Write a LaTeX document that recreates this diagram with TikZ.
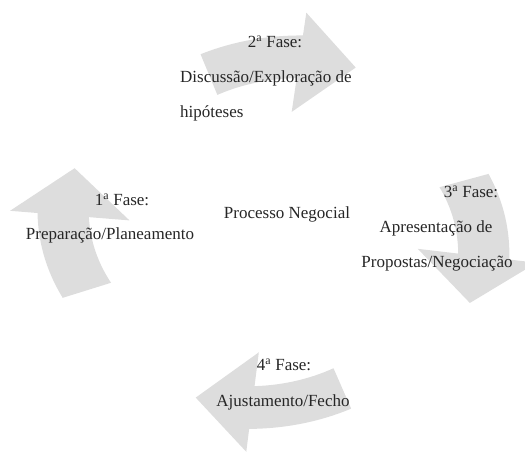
\documentclass[tikz,border=0pt]{standalone}
\usepackage{fontspec}
\setmainfont{Liberation Serif}
\definecolor{arrowgray}{RGB}{221,221,221}
% #1 rotation
\newcommand\cyclearrow[1]{%
  \begin{scope}[rotate=#1]
    \fill[arrowgray]
      plot[domain=109:83, samples=16] (\x:{188+(109-\x)*10/26})
      -- (83:221) -- (67.5:178) -- (83:121)
      -- plot[domain=83:109, samples=16] (\x:{155-(\x-83)*10/26})
      -- cycle;
  \end{scope}}
\tikzset{
  lbl/.style={font=\fontsize{17}{20}\selectfont, inner sep=0pt, text=black!85},
}
\begin{document}
\begin{tikzpicture}[x=1pt,y=1pt]
  \useasboundingbox (0,0) rectangle (525,452);
  \begin{scope}[shift={(274,220)}, xscale=1.2]
    \cyclearrow{0}
    \cyclearrow{-91}
    \cyclearrow{181}
    \cyclearrow{91.5}
  \end{scope}
  % top
  \node[lbl, anchor=base] (f2) at (275,404) {2\textsuperscript{a} Fase:};
  \node[lbl, anchor=base west] (d2) at (180,369) {Discussão/Exploração de};
  \node[lbl, anchor=base west] (h2) at (180,334) {hipóteses};
  % left
  \node[lbl, anchor=base] (f1) at (122,246) {1\textsuperscript{a} Fase:};
  \node[lbl, anchor=base] (p1) at (110,212) {Preparação/Planeamento};
  % centre
  \node[lbl, anchor=base] (c) at (287,233) {Processo Negocial};
  % right
  \node[lbl, anchor=base] (f3) at (471,254) {3\textsuperscript{a} Fase:};
  \node[lbl, anchor=base] (a3) at (436,219) {Apresentação de};
  \node[lbl, anchor=base] (p3) at (437,184) {Propostas/Negociação};
  % bottom
  \node[lbl, anchor=base] (f4) at (284,81) {4\textsuperscript{a} Fase:};
  \node[lbl, anchor=base] (a4) at (283,45) {Ajustamento/Fecho};
\end{tikzpicture}
\end{document}
